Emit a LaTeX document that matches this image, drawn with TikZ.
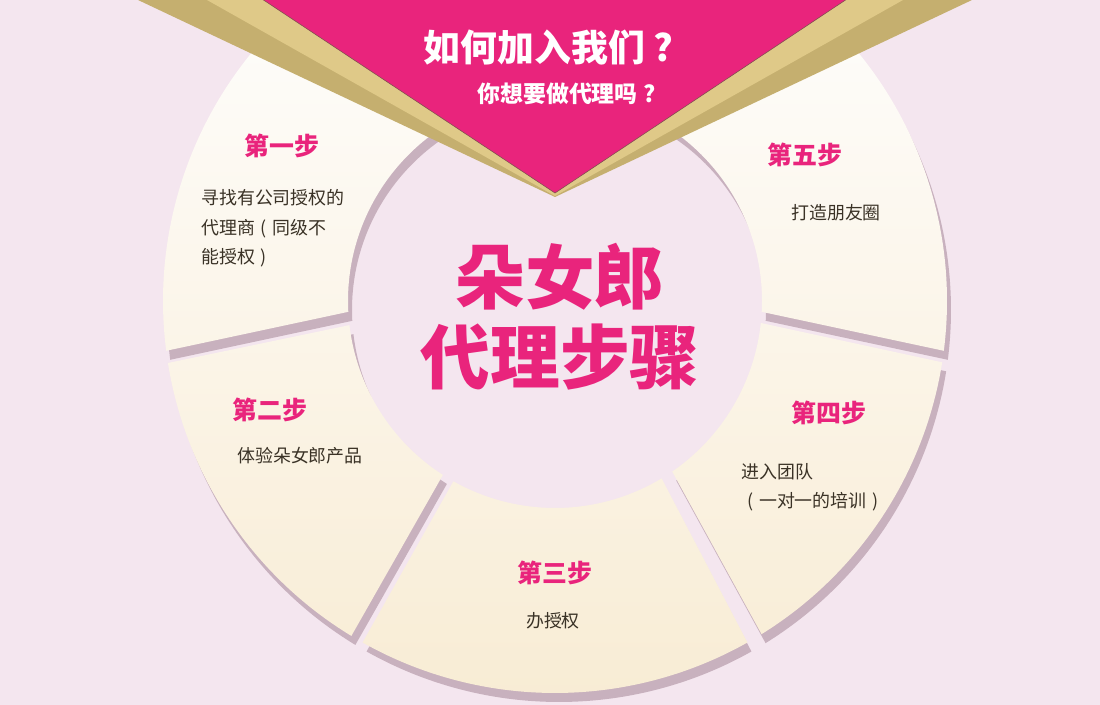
\documentclass[tikz,border=0pt]{standalone}
\usepackage{fontspec}
\newfontfamily\cjk{Noto Sans CJK SC}
\newcommand\fwq{\makebox[1em][c]{?}}
\newcommand\fwlp{\makebox[1em][c]{(}}
\newcommand\fwrp{\makebox[1em][c]{)}}
\definecolor{bg}{RGB}{244,230,239}
\definecolor{shd}{RGB}{200,177,190}
\definecolor{pinkm}{RGB}{233,36,124}
\definecolor{goldl}{RGB}{223,201,136}
\definecolor{goldd}{RGB}{197,175,111}
\definecolor{segtop}{RGB}{254,253,251}
\definecolor{segbot}{RGB}{248,236,212}
\definecolor{bodyc}{RGB}{58,50,38}
\definecolor{edgec}{RGB}{130,80,80}
\begin{document}
\begin{tikzpicture}[x=1bp,y=1bp,
  ringseg/.style n args={4}{insert path={({555+207*cos(#1)},{404+207*sin(#1)}) -- ({555+392*cos(#2)},{404+392*sin(#2)}) arc[start angle=#2, end angle=#3, radius=392] -- ({555+207*cos(#4)},{404+207*sin(#4)}) arc[start angle=#4, end angle=#1, radius=207] -- cycle}},
  steptitle/.style={font=\cjk\bfseries\fontsize{25}{28}\selectfont, text=pinkm, inner sep=0pt},
  stepbody/.style={font=\cjk\fontsize{18}{29.5}\selectfont, text=bodyc, inner sep=0pt, align=left},
  bigtitle/.style={font=\cjk\bfseries\fontsize{70}{72}\selectfont, text=pinkm, inner sep=0pt},
]
\useasboundingbox (0,0) rectangle (1100,705);
\clip (0,0) rectangle (1100,705);
\fill[bg] (0,0) rectangle (1100,705);
\coordinate (C) at (555,404);

% shadows
\begin{scope}[shift={(4,-9)}]
\fill[shd, ringseg={95}{95}{187.3}{183.0}];
\fill[shd, ringseg={186.7}{189.1}{238.7}{237.2}];
\fill[shd, ringseg={240.6}{240.6}{299.4}{301.0}];
\fill[shd, ringseg={304.5}{301.8}{351.0}{353.9}];
\fill[shd, ringseg={357.0}{352.7}{445}{445}];
\end{scope}

% segments with a common vertical gradient
\begin{scope}
\clip[ringseg={95}{95}{187.3}{183.0}, ringseg={186.7}{189.1}{238.7}{237.2}, ringseg={240.6}{240.6}{299.4}{301.0}, ringseg={304.5}{301.8}{351.0}{353.9}, ringseg={357.0}{352.7}{445}{445}];
\shade[top color=segtop, bottom color=segbot] (140,0) rectangle (970,705);
\end{scope}

% top arrow
\fill[goldd] (138,705) -- (972,705) -- (555,508) -- cycle;
\fill[goldl] (207,705) -- (903,705) -- (555,509) -- cycle;
\fill[pinkm, draw=edgec, line width=0.6bp] (262,706) -- (847,706) -- (555,512) -- cycle;

\node[font=\cjk\bfseries\fontsize{37}{40}\selectfont, text=white, inner sep=0pt] (q1) at (553,657) {如何加入我们\fwq};
\node[font=\cjk\bfseries\fontsize{23}{26}\selectfont, text=white, inner sep=0pt] (q2) at (569,611) {你想要做代理吗\fwq};

% center title
\node[bigtitle] (m1) at (560,428) {朵女郎};
\node[bigtitle] (m2) at (560,348) {代理步骤};

% steps
\node[steptitle] (t1) at (282,559) {第一步};
\node[stepbody, anchor=west] (b1) at (201,476.5) {寻找有公司授权的\\代理商\fwlp 同级不\\能授权\fwrp};

\node[steptitle] (t2) at (270,295) {第二步};
\node[stepbody, anchor=west] (b2) at (237,249) {体验朵女郎产品};

\node[steptitle] (t3) at (555,132) {第三步};
\node[stepbody] (b3) at (553,84) {办授权};

\node[steptitle] (t4) at (829,292) {第四步};
\node[stepbody, anchor=west] (b4) at (741,218) {进入团队\\\fwlp 一对一的培训\fwrp};

\node[steptitle] (t5) at (805,550) {第五步};
\node[stepbody, anchor=west] (b5) at (791,492) {打造朋友圈};
\end{tikzpicture}
\end{document}
